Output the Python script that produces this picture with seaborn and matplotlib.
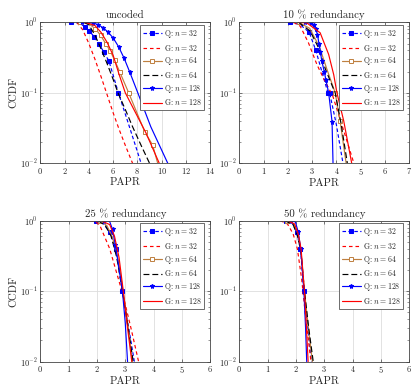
import matplotlib

matplotlib.use("Agg")
import matplotlib.pyplot as plt
import seaborn as sns

# curve data: (papr, ccdf)
UNCODED_Q32_X = [2.5, 3.2, 3.66, 4.02, 4.43, 4.84, 5.25, 5.66, 6.43, 7.0, 7.5, 8.0, 8.3]
UNCODED_Q32_Y = [1.0, 0.97, 0.87, 0.76, 0.625, 0.49, 0.375, 0.28, 0.1, 0.05, 0.027, 0.0146, 0.01]
UNCODED_G32_X = [3.0, 3.5, 4.0, 4.5, 5.0, 5.45, 6.0, 6.5, 7.0, 7.6]
UNCODED_G32_Y = [1.0, 0.78, 0.5, 0.3, 0.17, 0.1, 0.052, 0.03, 0.018, 0.01]
UNCODED_Q64_X = [3.3, 4.0, 4.54, 4.97, 5.38, 5.77, 6.12, 6.53, 7.3, 8.6, 9.26, 9.67]
UNCODED_Q64_Y = [1.0, 0.95, 0.81, 0.65, 0.5, 0.39, 0.29, 0.2, 0.098, 0.028, 0.018, 0.01]
UNCODED_G64_X = [3.6, 4.0, 4.5, 5.0, 5.5, 6.0, 6.4, 7.0, 7.6, 8.3, 9.0]
UNCODED_G64_Y = [1.0, 0.92, 0.66, 0.42, 0.26, 0.155, 0.1, 0.058, 0.033, 0.018, 0.01]
UNCODED_Q128_X = [3.4, 4.3, 4.75, 5.2, 5.6, 6.0, 6.45, 6.9, 7.35, 8.03, 9.1, 10.5]
UNCODED_Q128_Y = [1.0, 0.98, 0.93, 0.83, 0.72, 0.6, 0.45, 0.31, 0.2, 0.1, 0.033, 0.01]
UNCODED_G128_X = [3.7, 4.5, 5.0, 5.5, 6.0, 6.5, 7.0, 7.9, 8.7, 9.8]
UNCODED_G128_Y = [1.0, 0.9, 0.72, 0.52, 0.34, 0.18, 0.1, 0.05, 0.027, 0.01]

R10_Q32_X = [2.08, 2.5, 2.88, 3.15, 3.4, 3.65, 3.72, 4.0, 4.27]
R10_Q32_Y = [1.0, 0.93, 0.72, 0.4, 0.2, 0.1, 0.1, 0.035, 0.01]
R10_G32_X = [2.23, 2.51, 2.85, 3.2, 3.47, 3.85, 4.25, 4.72]
R10_G32_Y = [1.0, 0.88, 0.51, 0.25, 0.16, 0.09, 0.033, 0.01]
R10_Q64_X = [2.44, 2.9, 3.3, 3.6, 3.95, 4.15, 4.4]
R10_Q64_Y = [1.0, 0.82, 0.45, 0.22, 0.1, 0.04, 0.01]
R10_G64_X = [2.44, 2.92, 3.27, 3.54, 3.85, 3.95, 4.2, 4.45]
R10_G64_Y = [1.0, 0.75, 0.43, 0.22, 0.12, 0.1, 0.035, 0.01]
R10_Q128_X = [2.7, 2.95, 3.06, 3.15, 3.22, 3.28, 3.34, 3.4, 3.5, 3.57, 3.68, 3.82, 3.86]
R10_Q128_Y = [1.0, 0.97, 0.92, 0.8, 0.67, 0.5, 0.38, 0.28, 0.2, 0.15, 0.1, 0.039, 0.01]
R10_G128_X = [2.44, 2.78, 3.33, 3.68, 3.89, 4.02, 4.3, 4.63]
R10_G128_Y = [1.0, 0.98, 0.71, 0.35, 0.18, 0.1, 0.04, 0.01]

R25_Q32_X = [1.95, 2.2, 2.45, 2.66, 2.9, 3.1, 3.32]
R25_Q32_Y = [1.0, 0.93, 0.69, 0.4, 0.1, 0.034, 0.01]
R25_G32_X = [1.75, 1.95, 2.1, 2.45, 2.92, 3.2, 3.47]
R25_G32_Y = [1.0, 0.97, 0.86, 0.4, 0.088, 0.03, 0.01]
R25_Q64_X = [2.1, 2.35, 2.55, 2.75, 2.92, 3.1, 3.25]
R25_Q64_Y = [1.0, 0.85, 0.58, 0.28, 0.1, 0.032, 0.01]
R25_G64_X = [2.04, 2.3, 2.5, 2.7, 2.9, 3.1, 3.28]
R25_G64_Y = [1.0, 0.85, 0.6, 0.3, 0.1, 0.03, 0.01]
R25_Q128_X = [2.25, 2.45, 2.55, 2.65, 2.75, 2.9, 3.0, 3.08]
R25_Q128_Y = [1.0, 0.97, 0.75, 0.45, 0.25, 0.1, 0.035, 0.01]
R25_G128_X = [2.15, 2.45, 2.62, 2.78, 2.93, 3.08, 3.23]
R25_G128_Y = [1.0, 0.88, 0.6, 0.3, 0.1, 0.03, 0.01]

R50_Q32_X = [1.64, 1.85, 2.02, 2.16, 2.28, 2.42, 2.55]
R50_Q32_Y = [1.0, 0.96, 0.69, 0.4, 0.1, 0.03, 0.01]
R50_G32_X = [1.45, 1.7, 1.9, 2.05, 2.2, 2.35, 2.53]
R50_G32_Y = [1.0, 0.9, 0.65, 0.4, 0.15, 0.04, 0.01]
R50_Q64_X = [1.68, 1.92, 2.06, 2.17, 2.3, 2.44, 2.58]
R50_Q64_Y = [1.0, 0.9, 0.65, 0.4, 0.1, 0.03, 0.01]
R50_G64_X = [1.6, 1.9, 2.05, 2.17, 2.3, 2.45, 2.61]
R50_G64_Y = [1.0, 0.88, 0.62, 0.38, 0.1, 0.03, 0.01]
R50_Q128_X = [1.82, 1.98, 2.08, 2.17, 2.28, 2.34, 2.38]
R50_Q128_Y = [1.0, 0.96, 0.69, 0.4, 0.1, 0.03, 0.01]
R50_G128_X = [1.7, 1.95, 2.08, 2.18, 2.3, 2.37, 2.43]
R50_G128_Y = [1.0, 0.9, 0.65, 0.4, 0.1, 0.03, 0.01]

PANEL_TITLES = ["uncoded", "10 % redundancy", "25 % redundancy", "50 % redundancy"]
PANEL_XMAX = [14, 7, 6, 6]
PANEL_XSTEP = [2, 1, 1, 1]
SERIES_LABELS = [
    "Q: $n = 32$",
    "G: $n = 32$",
    "Q: $n = 64$",
    "G: $n = 64$",
    "Q: $n = 128$",
    "G: $n = 128$",
]

PANELS = [
    [(UNCODED_Q32_X, UNCODED_Q32_Y), (UNCODED_G32_X, UNCODED_G32_Y),
     (UNCODED_Q64_X, UNCODED_Q64_Y), (UNCODED_G64_X, UNCODED_G64_Y),
     (UNCODED_Q128_X, UNCODED_Q128_Y), (UNCODED_G128_X, UNCODED_G128_Y)],
    [(R10_Q32_X, R10_Q32_Y), (R10_G32_X, R10_G32_Y),
     (R10_Q64_X, R10_Q64_Y), (R10_G64_X, R10_G64_Y),
     (R10_Q128_X, R10_Q128_Y), (R10_G128_X, R10_G128_Y)],
    [(R25_Q32_X, R25_Q32_Y), (R25_G32_X, R25_G32_Y),
     (R25_Q64_X, R25_Q64_Y), (R25_G64_X, R25_G64_Y),
     (R25_Q128_X, R25_Q128_Y), (R25_G128_X, R25_G128_Y)],
    [(R50_Q32_X, R50_Q32_Y), (R50_G32_X, R50_G32_Y),
     (R50_Q64_X, R50_Q64_Y), (R50_G64_X, R50_G64_Y),
     (R50_Q128_X, R50_Q128_Y), (R50_G128_X, R50_G128_Y)],
]

# which points of the Q curves carry a marker, per panel
MARKS = [
    {0: [0, 2, 3, 4, 5, 6, 7, 8], 2: [0, 2, 3, 4, 5, 6, 7, 8, 9, 10], 4: list(range(9))},
    {0: [0, 2, 3, 5, 6], 2: [0, 4, 5], 4: list(range(12))},
    {0: [0, 2, 3, 4], 2: [0], 4: [0, 2, 3, 5]},
    {0: [0, 2, 3, 4], 2: [0], 4: [0, 2, 3, 4]},
]

BROWN = (0.75, 0.5, 0.25)
STYLES = [
    dict(color="blue", linestyle=(0, (3, 2)), marker="s", markersize=2.6,
         markerfacecolor="blue", markeredgecolor="blue"),
    dict(color="red", linestyle=(0, (3, 2.5))),
    dict(color=BROWN, linestyle="-", marker="s", markersize=2.6,
         markerfacecolor="white", markeredgecolor=BROWN, markeredgewidth=0.7),
    dict(color="black", linestyle=(0, (5, 2.5))),
    dict(color="blue", linestyle="-", marker="*", markersize=3.6,
         markerfacecolor="blue", markeredgecolor="blue"),
    dict(color="red", linestyle="-"),
]

sns.set_style("ticks")
plt.rcParams["font.family"] = ["cmr10", "DejaVu Serif"]
plt.rcParams["mathtext.fontset"] = "cm"
plt.rcParams["axes.formatter.use_mathtext"] = True
plt.rcParams["axes.unicode_minus"] = False

fig = plt.figure(figsize=(4.15, 3.89), dpi=100)
positions = [
    [0.0971, 0.5802, 0.4096, 0.3625],
    [0.5766, 0.5802, 0.4096, 0.3625],
    [0.0971, 0.0702, 0.4096, 0.3625],
    [0.5766, 0.0702, 0.4096, 0.3625],
]

for idx, (pos, curves) in enumerate(zip(positions, PANELS)):
    ax = fig.add_axes(pos)
    for k, ((xs, ys), style) in enumerate(zip(curves, STYLES)):
        kwargs = dict(style)
        if k in MARKS[idx]:
            kwargs["markevery"] = MARKS[idx][k]
        sns.lineplot(x=xs, y=ys, ax=ax, sort=False, lw=0.85,
                     label=SERIES_LABELS[k], **kwargs)

    ax.set_yscale("log")
    ax.set_ylim(0.01, 1.0)
    ax.set_xlim(0, PANEL_XMAX[idx])
    ax.set_xticks(range(0, PANEL_XMAX[idx] + 1, PANEL_XSTEP[idx]))
    ax.grid(True, which="major", color="#dddddd", lw=0.6)
    ax.tick_params(which="both", direction="in", top=True, right=True,
                   labelsize=6, color="#444444", pad=2)
    ax.tick_params(which="major", length=2.5, width=0.5)
    ax.tick_params(which="minor", length=1.5, width=0.4)
    for spine in ax.spines.values():
        spine.set_linewidth(0.6)
        spine.set_color("#444444")
    ax.set_title(PANEL_TITLES[idx], fontsize=7.8, pad=3)
    ax.set_xlabel("PAPR", fontsize=7.8, labelpad=1)
    if idx % 2 == 0:
        ax.set_ylabel("CCDF", fontsize=7.8, labelpad=1)
    else:
        ax.set_ylabel("")

    leg = ax.legend(loc="upper right", bbox_to_anchor=(0.965, 0.98), fontsize=5.6,
                    frameon=True, fancybox=False, framealpha=1, edgecolor="#555555",
                    handlelength=2.4, handletextpad=0.3, labelspacing=0.35,
                    borderpad=0.35, borderaxespad=0)
    leg.get_frame().set_linewidth(0.6)

fig.savefig("out.png", dpi=100)
